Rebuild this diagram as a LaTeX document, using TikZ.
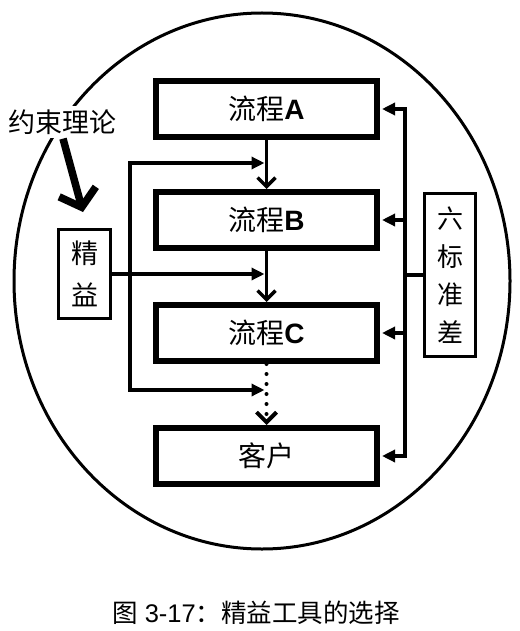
\documentclass[tikz,border=0pt]{standalone}
\usepackage{fontspec}
\setmainfont{Liberation Sans}
\newfontfamily\cjk{Noto Sans CJK SC}
\usetikzlibrary{arrows.meta,calc}
\tikzset{
  proc/.style={rectangle,draw,line width=6pt,minimum width=221pt,
               minimum height=56pt,inner sep=0pt,
               font=\fontsize{28}{32}\selectfont},
  side/.style={rectangle,draw,line width=3pt,inner sep=0pt,align=center,
               font=\cjk\fontsize{26}{40}\selectfont},
  flow/.style={line width=3.5pt,-{Straight Barb[length=9pt,width=18pt]}},
  feed/.style={line width=3.5pt,shorten >=2pt,-{Triangle[length=13pt,width=12pt]}},
  dotflow/.style={line width=4pt,line cap=round,dash pattern=on 0pt off 10pt,
                  -{Straight Barb[length=10pt,width=20pt]}},
  bigarrow/.style={line width=7.5pt,-{Straight Barb[length=16pt,width=38pt]}},
}

\begin{document}
\begin{tikzpicture}[x=1pt,y=-1pt]
\useasboundingbox (0,0) rectangle (519,631);

% Outer ellipse
\draw[line width=3pt] (262,281) ellipse [x radius=248, y radius=268];

% Process chain (centre column)
\node[proc] (A) at (266.5,109) {{\cjk 流程}\textbf{A}};
\node[proc] (B) at (266.5,220) {{\cjk 流程}\textbf{B}};
\node[proc] (C) at (266.5,333) {{\cjk 流程}\textbf{C}};
\node[proc] (K) at (266.5,456) {\cjk 客户};

% Side tools
\node[fill=white,inner sep=4pt,font=\cjk\fontsize{27}{30}\selectfont]
  (toc) at (63,122) {约束理论};
\node[side,minimum width=52pt,minimum height=89pt,
      font=\cjk\fontsize{27}{42}\selectfont] (lean) at (84.5,274) {精\\益};
\node[side,minimum width=51pt,minimum height=163pt,
      font=\cjk\fontsize{26}{38}\selectfont] (six) at (450,275) {六\\标\\准\\差};

% Bus positions
\coordinate (feedT) at (130,163);
\coordinate (feedB) at (130,390);
\coordinate (busR)  at (405,280);
\coordinate (tipL)  at (83,212);

% Main flow
\draw[flow] (A.south) -- (B.north);
\draw[flow] (B.south) -- (C.north);
\draw[dotflow] (C.south) -- (K.north);

% Lean feeds
\draw[feed] (lean.east) -- (lean.east -| B.south);
\draw[feed] (lean.east -| feedT) |- (feedT -| A.south);
\draw[feed] (lean.east -| feedB) |- (feedB -| C.south);

% Six sigma bus
\draw[line width=3.5pt] (six.west) -- (six.west -| busR);
\foreach \b in {A,B,C,K}
  \draw[feed] (six.west -| busR) |- (\b.east);

% Theory of constraints
\draw[bigarrow] (toc.south) -- (tipL);

% Caption
\node[font=\fontsize{25.5}{28}\selectfont] (cap) at (256,613)
  {{\cjk 图} 3-17{\cjk ：精益工具的选择}};
\end{tikzpicture}
\end{document}
